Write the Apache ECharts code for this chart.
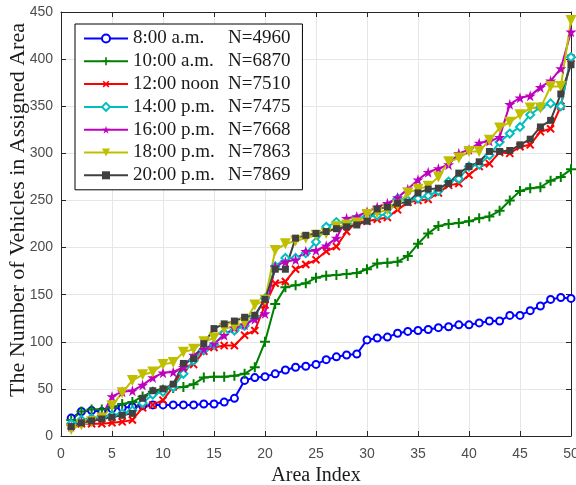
<!DOCTYPE html>
<html>
<head>
<meta charset="utf-8">
<script src="https://cdn.jsdelivr.net/npm/echarts@6/dist/echarts.min.js"></script>
<style>
html,body{margin:0;padding:0;background:#fff;}
#chart{width:576px;height:485px;}
</style>
</head>
<body>
<div id="chart"></div>
<script>
// ---- data ----
var areaIndex = [];
for (var i = 1; i <= 50; i++) areaIndex.push(i);

var seriesNames = ['8:00 a.m.', '10:00 a.m.', '12:00 noon', '14:00 p.m.', '16:00 p.m.', '18:00 p.m.', '20:00 p.m.'];
var seriesN = ['N=4960', 'N=6870', 'N=7510', 'N=7475', 'N=7668', 'N=7863', 'N=7869'];

var blue8 = [19,26,27,26,29,30,31,32,33,33, 33,33,33,34,34,36,40,59,62,63, 66,70,73,74,76,81,84,86,87,102, 104,105,109,111,112,113,115,116,118,118, 120,122,122,128,128,133,138,145,147,146];
var green10 = [17,26,28,28,30,34,36,42,47,49, 51,52,55,62,63,63,64,66,73,100, 140,158,160,162,168,170,171,172,173,177, 183,184,185,191,204,215,223,225,226,228, 231,233,239,250,260,263,264,271,275,283];
var red12 = [11,13,13,13,14,15,17,30,33,38, 52,73,76,90,94,96,96,107,112,139, 162,164,177,182,187,196,201,217,227,228, 230,232,240,248,250,251,258,266,268,277, 286,289,301,300,307,309,323,326,350,401];
var cyan14 = [13,17,19,20,22,24,27,35,44,47, 52,66,80,91,97,109,112,117,127,146, 180,189,189,194,206,222,227,226,231,233, 234,235,252,250,252,255,260,270,273,286, 288,298,312,321,328,341,349,353,350,402];
var magenta16 = [10,15,17,21,42,47,48,54,62,67, 68,73,86,92,98,107,115,118,124,130, 180,185,187,196,197,202,210,231,233,238, 243,247,253,262,272,280,284,288,300,304, 311,313,317,352,359,361,370,377,390,429];
var yellow18 = [7,12,15,19,32,46,59,65,68,76, 78,89,92,100,104,114,116,120,139,144, 197,204,207,210,213,215,222,224,226,235, 237,240,245,258,262,265,275,291,295,302, 302,314,327,333,341,348,348,371,371,441];
var gray20 = [10,14,16,18,20,22,24,40,48,50, 55,77,82,98,114,119,122,126,128,145, 177,177,210,213,215,217,220,222,224,228, 241,243,247,248,258,262,263,268,279,286, 291,302,302,303,309,315,328,335,363,394];

var xTicks = [0,5,10,15,20,25,30,35,40,45,50];
var yTicks = [0,50,100,150,200,250,300,350,400,450];

var allData = [blue8, green10, red12, cyan14, magenta16, yellow18, gray20];

// ---- styles ----
var colors = ['#0000FF', '#008000', '#FF0000', '#00BFBF', '#BF00BF', '#BFBF00', '#404040'];
var PLUS = 'path://M4,0H6V4H10V6H6V10H4V6H0V4H4Z';
var STAR = 'path://M50,0L61,35L98,35L68,57L79,91L50,70L21,91L32,57L2,35L39,35Z';
var symbols = ['emptyCircle', PLUS, PLUS, 'emptyDiamond', STAR, 'triangle', 'rect'];
var symRot = [0, 0, 45, 0, 0, 180, 0];
var symSize = [7, 10, 10, 8, 11, 11, 7];

var serif = '"Liberation Serif", "Times New Roman", serif';
var sans = '"Liberation Sans", Arial, sans-serif';

var series = allData.map(function (d, k) {
  return {
    name: seriesNames[k],
    type: 'line',
    data: d.map(function (v, j) { return [areaIndex[j], v]; }),
    xAxisIndex: 0, yAxisIndex: 0,
    symbol: symbols[k],
    symbolSize: symSize[k],
    symbolRotate: symRot[k],
    showAllSymbol: true,
    lineStyle: { color: colors[k], width: 2 },
    itemStyle: { color: colors[k], borderColor: colors[k], borderWidth: (k === 0 || k === 3) ? 2 : 0 },
    emphasis: { disabled: true },
    animation: false
  };
});

var nameMap = {};
seriesNames.forEach(function (n, k) { nameMap[n] = seriesN[k]; });

var chart = echarts.init(document.getElementById('chart'));
chart.setOption({
  backgroundColor: '#ffffff',
  animation: false,
  color: colors,
  grid: { left: 61, right: 5, top: 12, bottom: 49, containLabel: false, outerBoundsMode: 'none' },
  legend: {
    show: true,
    left: 75, top: 24,
    orient: 'vertical',
    backgroundColor: '#ffffff',
    borderColor: '#000000',
    borderWidth: 1,
    padding: [5, 12, 5, 8],
    itemWidth: 44,
    itemHeight: 10,
    itemGap: 3.8,
    data: seriesNames,
    formatter: function (name) { return '{a|' + name + '}{b|' + nameMap[name] + '}'; },
    textStyle: {
      fontFamily: serif, fontSize: 19, color: '#1a1a1a',
      rich: {
        a: { fontFamily: serif, fontSize: 19, color: '#1a1a1a', width: 95 },
        b: { fontFamily: serif, fontSize: 19, color: '#1a1a1a' }
      }
    }
  },
  xAxis: [{
    type: 'value', min: 0, max: 50, interval: 5,
    name: 'Area Index', nameLocation: 'middle', nameGap: 23,
    nameTextStyle: { fontFamily: serif, fontSize: 20, color: '#1a1a1a' },
    axisLine: { show: true, onZero: false, lineStyle: { color: '#262626', width: 1 } },
    axisTick: { show: true, inside: true, length: 5, lineStyle: { color: '#262626' } },
    axisLabel: { show: true, margin: 11, fontFamily: sans, fontSize: 14, color: '#4d4d4d',
      formatter: function (v) { return xTicks.indexOf(v) >= 0 ? String(v) : ''; } },
    splitLine: { show: true, lineStyle: { color: '#e6e6e6', width: 1 } }
  }, {
    type: 'value', min: 0, max: 50, interval: 5, position: 'top',
    axisLine: { show: true, onZero: false, lineStyle: { color: '#262626', width: 1 } },
    axisTick: { show: true, inside: true, length: 5, lineStyle: { color: '#262626' } },
    axisLabel: { show: false }, splitLine: { show: false }
  }],
  yAxis: [{
    type: 'value', min: 0, max: 450, interval: 50,
    name: 'The Number of Vehicles in Assigned Area', nameLocation: 'middle', nameGap: 32,
    nameMoveOverlap: false,
    nameTextStyle: { fontFamily: serif, fontSize: 22, color: '#1a1a1a', padding: [0, 0, 0, 28] },
    axisLine: { show: true, onZero: false, lineStyle: { color: '#262626', width: 1 } },
    axisTick: { show: true, inside: true, length: 5, lineStyle: { color: '#262626' } },
    axisLabel: { show: true, margin: 8, fontFamily: sans, fontSize: 14, color: '#4d4d4d',
      formatter: function (v) { return yTicks.indexOf(v) >= 0 ? String(v) : ''; } },
    splitLine: { show: true, lineStyle: { color: '#e6e6e6', width: 1 } }
  }, {
    type: 'value', min: 0, max: 450, interval: 50, position: 'right',
    axisLine: { show: true, onZero: false, lineStyle: { color: '#262626', width: 1 } },
    axisTick: { show: true, inside: true, length: 5, lineStyle: { color: '#262626' } },
    axisLabel: { show: false }, splitLine: { show: false }
  }],
  series: series
});
</script>
</body>
</html>
